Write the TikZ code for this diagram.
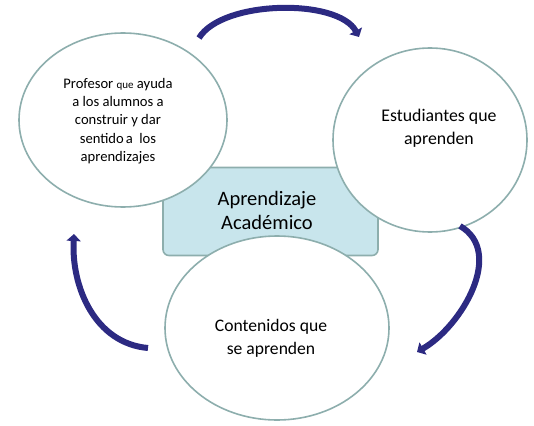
\documentclass[tikz,border=0pt]{standalone}
\usepackage{fontspec}
\setmainfont{Carlito}
\usetikzlibrary{arrows.meta,shapes.geometric}
\definecolor{navy}{HTML}{2C2A82}
\definecolor{rim}{HTML}{8DAEAD}
\definecolor{boxfill}{HTML}{C8E5EC}
\tikzset{
  bubble/.style={ellipse, draw=rim, line width=1.6pt, fill=white, align=center, inner sep=0pt},
  centerbox/.style={draw=rim, line width=1.6pt, fill=boxfill, rounded corners=6pt, align=center},
  cyclearrow/.style={draw=navy, line width=6pt, -{Triangle[length=7pt,width=14pt]}}
}
\begin{document}
\begin{tikzpicture}[x=1pt,y=-1pt]
\useasboundingbox (0,0) rectangle (534,425);
% central box (behind)
\node[centerbox, minimum width=215pt, minimum height=88pt] (box) at (270.5,211.5) {};
% ellipses
\node[bubble, minimum width=208pt, minimum height=174pt] (prof) at (123,120) {};
\node[bubble, minimum width=194pt, minimum height=184pt] (est) at (430,140) {};
\node[bubble, minimum width=224pt, minimum height=184pt] (cont) at (277,328) {};
% texts
\node[align=center, font=\fontsize{14.6}{18.2}\selectfont] (proftxt) at (118,121)
  {Profesor {\fontsize{11}{12}\selectfont que} ayuda\\ a los alumnos a\\ construir y dar\\ sentido\hspace{2pt}a\ \ los\\ aprendizajes};
\node[align=center, font=\fontsize{17.8}{23}\selectfont] (esttxt) at (439,128) {Estudiantes que\\ aprenden};
\node[align=center, font=\fontsize{17.6}{23}\selectfont] (conttxt) at (271,338) {Contenidos que\\ se aprenden};
\node[align=center, font=\fontsize{20.5}{24}\selectfont] (boxtxt) at (267,210) {Aprendizaje\\ Académico};
% arrows
\coordinate (t1) at (199,38);
\coordinate (t2) at (359,37);
\coordinate (r1) at (460,226);
\coordinate (r2) at (417,352);
\coordinate (l1) at (148,348);
\coordinate (l2) at (74,234);
\draw[cyclearrow] (t1) .. controls (222,0) and (338,-2) .. (t2);
\draw[cyclearrow] (r1) to[out=-30, in=30] (r2);
\draw[cyclearrow] (l1) to[out=175, in=-93] (l2);
\end{tikzpicture}
\end{document}
